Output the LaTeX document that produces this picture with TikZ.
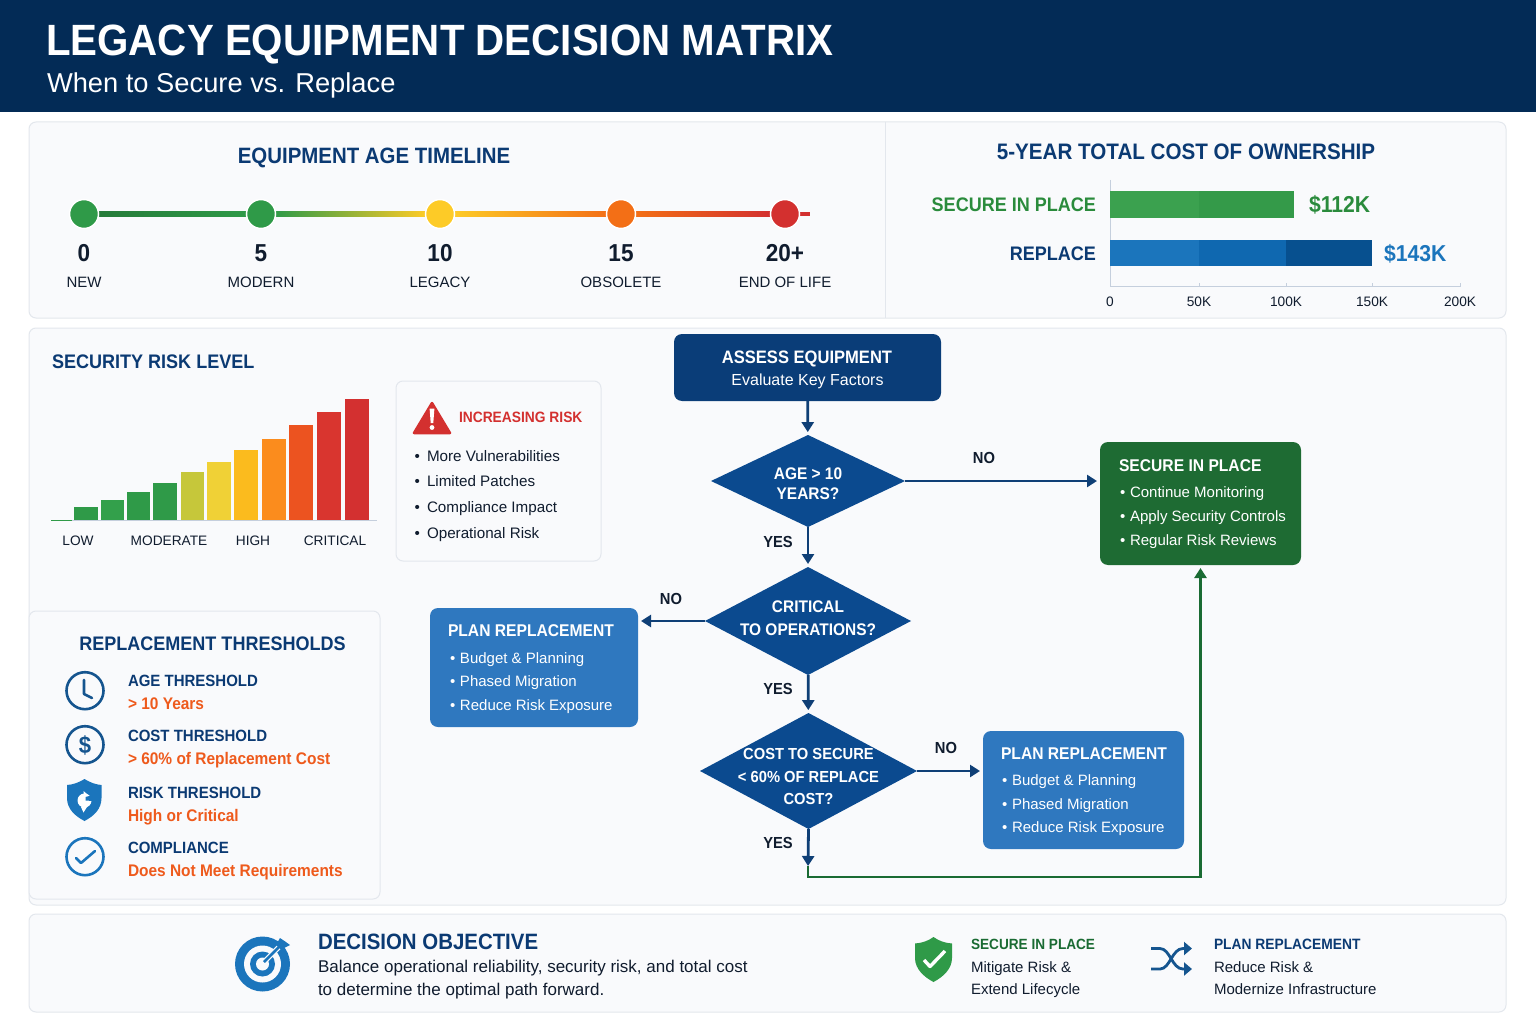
\documentclass[tikz,border=0pt]{standalone}
\usepackage{fontspec}
\setmainfont{Liberation Sans}[BoldFeatures={FakeStretch=0.92}]
\usetikzlibrary{shapes.geometric,arrows.meta,calc}
\definecolor{navy}{HTML}{0B3A73}
\definecolor{head}{HTML}{032B56}
\definecolor{ink}{HTML}{101C2E}
\definecolor{panelfill}{HTML}{F9FAFC}
\definecolor{panelline}{HTML}{E3E7ED}
\definecolor{flownavy}{HTML}{0A3D78}
\definecolor{dianavy}{HTML}{0B4A8F}
\definecolor{flowgreen}{HTML}{1E6B33}
\definecolor{flowblue}{HTML}{2F78BF}
\definecolor{linenavy}{HTML}{0F3F76}
\definecolor{linegreen}{HTML}{1A6B33}
\definecolor{cgreen}{HTML}{2F9A48}
\definecolor{textgreen}{HTML}{2A8B3C}
\definecolor{cyellow}{HTML}{FDCB27}
\definecolor{corange}{HTML}{F36F16}
\definecolor{cred}{HTML}{D3302F}
\definecolor{warnorange}{HTML}{EE5A1C}
\definecolor{ticon}{HTML}{15558F}
\definecolor{tblue}{HTML}{1B75BC}
\definecolor{axisline}{HTML}{C5CFDD}
\definecolor{gbarA}{HTML}{3BA14F}
\definecolor{gbarB}{HTML}{349A49}
\definecolor{bbarA}{HTML}{1B75BC}
\definecolor{bbarB}{HTML}{0F68B0}
\definecolor{bbarC}{HTML}{07508F}
\tikzset{
  sz/.style={font=\fontsize{#1}{#1}\selectfont,text height={0.72*#1 pt},text depth=0pt,inner sep=0pt,outer sep=0pt},
  b/.style={execute at begin node=\bfseries},
  panel/.style={draw=panelline,line width=1pt,fill=panelfill,rounded corners=7pt},
  flowbox/.style={rounded corners=8pt,inner sep=0pt,outer sep=0pt},
  dia/.style={diamond,fill=dianavy,inner sep=0pt,outer sep=0pt,shape aspect=1.8},
  flowarrow/.style={draw=linenavy,line width=2.8pt,shorten >=3pt,-{Triangle[length=10pt,width=12pt]}},
  dot/.style={circle,draw=white,line width=1.5pt,minimum size=29pt,inner sep=0pt,outer sep=0pt},
  icon/.style={line width=2.6pt,draw=ticon},
}
\newcommand{\bul}{\makebox[10pt][l]{\textbullet}}
\begin{document}
\begin{tikzpicture}[x=1pt,y=-1pt]
\useasboundingbox (0,0) rectangle (1536,1024);
\fill[white] (0,0) rectangle (1536,1024);
% header
\fill[head] (0,0) rectangle (1536,112);
\node[sz=43.8,b,anchor=west,text=white] (title) at (46,40) {LEGACY EQUIPMENT DECISION MATRIX};
\node[sz=27.3,anchor=west,text=white] (subtitle) at (47,83) {When to Secure vs. Replace};
% panels
\draw[panel] (29,122) rectangle (1506,318);
\draw[panelline,line width=1pt] (885,122) -- (885,318);
\draw[panel] (29,328) rectangle (1506,905);
\draw[panel] (29,611) rectangle (380,899);
\draw[panel] (396,381) rectangle (601,561);
\draw[panel] (29,914) rectangle (1506,1012);
% timeline
\node[sz=22.2,b,text=navy] (tltitle) at (374,156) {EQUIPMENT AGE TIMELINE};
\shade[left color=cgreen!80!black,right color=cgreen] (98,212) rectangle (247,216.5);
\shade[left color=cgreen,right color=cyellow] (275,212) rectangle (426,216.5);
\shade[left color=cyellow,right color=corange] (454,212) rectangle (607,216.5);
\shade[left color=corange,right color=cred] (635,212) rectangle (771,216.5);
\fill[cred] (799,212) rectangle (810,216.5);
\node[dot,fill=cgreen] (t0) at (84,214) {};
\node[dot,fill=cgreen] (t5) at (261,214) {};
\node[dot,fill=cyellow] (t10) at (440,214) {};
\node[dot,fill=corange] (t15) at (621,214) {};
\node[dot,fill=cred] (t20) at (785,214) {};
\foreach \nx/\ny/\nv/\nl in {84/a/0/NEW,261/b/5/MODERN,440/c/10/LEGACY,621/d/15/OBSOLETE,785/e/20+/END OF LIFE}{
  \node[sz=24.5,b,text=ink] (num\ny) at (\nx,252.5) {\nv};
  \node[sz=15,text=ink] (lab\ny) at (\nx,282) {\nl};
}
% cost
\node[sz=22.4,b,text=navy] (costtitle) at (1186,151) {5-YEAR TOTAL COST OF OWNERSHIP};
\node[sz=19.6,b,anchor=east,text=textgreen] (cl1) at (1096,204) {SECURE IN PLACE};
\node[sz=19.6,b,anchor=east,text=navy] (cl2) at (1096,253) {REPLACE};
\draw[axisline,line width=1pt] (1110,180) -- (1110,287) -- (1460,287);
\foreach \tx in {1199,1286,1372,1460}{\draw[axisline,line width=1pt] (\tx,287) -- (\tx,283);}
\fill[gbarA] (1110,191) rectangle (1199,218);
\fill[gbarB] (1199,191) rectangle (1294,218);
\fill[bbarA] (1110,240) rectangle (1199,266);
\fill[bbarB] (1199,240) rectangle (1286,266);
\fill[bbarC] (1286,240) rectangle (1372,266);
\node[sz=23,b,anchor=west,text=textgreen] (v1) at (1309,204.5) {\$112K};
\node[sz=23,b,anchor=west,text=tblue] (v2) at (1384,253.5) {\$143K};
\foreach \tx/\tl/\tn in {1110/0/a,1199/50K/b,1286/100K/c,1372/150K/d,1460/200K/e}{
  \node[sz=13.7,text=ink] (ax\tn) at (\tx,301.5) {\tl};
}
% risk chart
\node[sz=19.6,b,anchor=west,text=navy] (risktitle) at (52,361.5) {SECURITY RISK LEVEL};
\foreach \xa/\xb/\yt/\cc in {74.4/97.7/507.3/2F9A48,101/123.6/499.7/33A04B,127/150/491.7/2F9A48,153/176.5/483/2F9A48,180.6/203.5/472.3/C6C73A,206.8/231/462/F0D136,234/258/450/FBBB1E,261.6/285.6/438.7/FB8C1D,289/313/425/EC5320,317/341/412/D9352F,345/369/399.3/D33030}{
  \definecolor{barc}{HTML}{\cc}
  \fill[barc] (\xa,\yt) rectangle (\xb,520.5);
}
\draw[axisline,line width=1pt] (51,520.8) -- (377,520.8);
\draw[cgreen,line width=1pt] (51,520.8) -- (72,520.8);
\foreach \lx/\ll/\ln in {78/LOW/a,169/MODERATE/b,253/HIGH/c,335/CRITICAL/d}{
  \node[sz=13.7,text=ink] (rl\ln) at (\lx,541) {\ll};
}
% increasing risk
\fill[cred,draw=cred,line width=2.5pt,line join=round] (432,403) -- (450,433) -- (414,433) -- cycle;
\fill[white] (429.6,408.5) -- (434.4,408.5) -- (433.3,423) -- (430.7,423) -- cycle;
\fill[white] (432,427.5) circle (2.4pt);
\node[sz=15,b,anchor=west,text=cred] (irt) at (459,417) {INCREASING RISK};
\foreach \ry/\rt/\rn in {456/More Vulnerabilities/a,481/Limited Patches/b,507/Compliance Impact/c,533/Operational Risk/d}{
  \node[sz=15.2,anchor=west,text=ink] (ir\rn) at (414.5,\ry) {\makebox[12.5pt][l]{\textbullet}\rt};
}
% thresholds
\node[sz=19.6,b,text=navy] (thtitle) at (212.5,643) {REPLACEMENT THRESHOLDS};
\foreach \hy/\ha/\hb/\hn in {681/AGE THRESHOLD/> 10 Years/a,736/COST THRESHOLD/> 60\% of Replacement Cost/b,793/RISK THRESHOLD/High or Critical/c,848/COMPLIANCE/Does Not Meet Requirements/d}{
  \node[sz=16.3,b,anchor=west,text=navy] (ha\hn) at (128,\hy) {\ha};
  \pgfmathsetmacro{\hyb}{\hy+22}
  \node[sz=16.8,b,anchor=west,text=warnorange] (hb\hn) at (128,\hyb) {\hb};
}
\draw[icon] (85,690.7) circle (18.5pt);
\draw[icon,line cap=round,line join=round] (84,680) -- (84,694) -- (92,698);
\draw[icon] (85,744.7) circle (18.5pt);
\node[sz=24,b,text=ticon] (dollar) at (85,745) {\$};
\fill[tblue] (84.5,779) .. controls (78,783) and (73,784.5) .. (67,785) -- (67,798) .. controls (67,809) and (75,816) .. (84.5,821) .. controls (94,816) and (101.5,809) .. (101.5,798) -- (101.5,785) .. controls (96,784.5) and (91,783) .. (84.5,779) -- cycle;
\fill[white] (84.5,800.5) circle (7pt);
\fill[tblue] (85.5,797) -- (93,795) -- (93,801) -- (85.5,800.5) -- cycle;
\fill[white] (83.5,791) -- (87,794) -- (83.5,794) -- cycle;
\fill[white] (83.5,812.5) -- (87,807) -- (81,807) -- cycle;
\draw[icon,draw=tblue] (85,856.7) circle (18.5pt);
\draw[icon,draw=tblue,line cap=round,line join=round] (76,858) -- (81,863) -- (95,851);
% flow
\node[flowbox,fill=flownavy,minimum width=267pt,minimum height=67pt] (assess) at (807.5,367.5) {};
\node[sz=18,b,text=white] (assess1) at (807,357) {ASSESS EQUIPMENT};
\node[sz=16,text=white] (assess2) at (807.5,380) {Evaluate Key Factors};
\node[dia,minimum width=194pt,minimum height=92pt] (d1) at (808,481) {};
\node[sz=16.8,b,text=white] (d1a) at (808,473) {AGE > 10};
\node[sz=16.8,b,text=white] (d1b) at (808,493) {YEARS?};
\node[dia,minimum width=206pt,minimum height=108pt] (d2) at (808,621) {};
\node[sz=16.8,b,text=white] (d2a) at (808,606) {CRITICAL};
\node[sz=16.8,b,text=white] (d2b) at (808,629) {TO OPERATIONS?};
\node[dia,minimum width=217pt,minimum height=116pt] (d3) at (808.5,771) {};
\node[sz=16,b,text=white] (d3a) at (808.5,754) {COST TO SECURE};
\node[sz=16,b,text=white] (d3b) at (808.5,777) {< 60\% OF REPLACE};
\node[sz=16,b,text=white] (d3c) at (808.5,799) {COST?};
% outcome boxes
\node[flowbox,fill=flowgreen,minimum width=201pt,minimum height=123pt] (secure) at (1200.5,503.5) {};
\node[sz=17,b,anchor=west,text=white] (sec0) at (1119,465) {SECURE IN PLACE};
\foreach \sy/\st/\sn in {492/Continue Monitoring/a,516/Apply Security Controls/b,540/Regular Risk Reviews/c}{
  \node[sz=15,anchor=west,text=white] (sec\sn) at (1120,\sy) {\bul\st};
}
\node[flowbox,fill=flowblue,minimum width=208pt,minimum height=119pt] (planA) at (534,667.5) {};
\node[sz=17,b,anchor=west,text=white] (pa0) at (448,630) {PLAN REPLACEMENT};
\foreach \sy/\st/\sn in {658/Budget \& Planning/a,681/Phased Migration/b,705/Reduce Risk Exposure/c}{
  \node[sz=15,anchor=west,text=white] (pa\sn) at (450,\sy) {\bul\st};
}
\node[flowbox,fill=flowblue,minimum width=201pt,minimum height=118pt] (planB) at (1083.5,790) {};
\node[sz=17,b,anchor=west,text=white] (pb0) at (1001,753) {PLAN REPLACEMENT};
\foreach \sy/\st/\sn in {780/Budget \& Planning/a,804/Phased Migration/b,827/Reduce Risk Exposure/c}{
  \node[sz=15,anchor=west,text=white] (pb\sn) at (1002,\sy) {\bul\st};
}
% connectors
\draw[flowarrow] (assess) -- (d1);
\draw[flowarrow] (d1) -- (secure.west |- d1);
\draw[flowarrow] (d1) -- (d2);
\draw[flowarrow] (d2) -- (planA.east |- d2);
\draw[flowarrow] (d2) -- (d3);
\draw[flowarrow] (d3) -- (planB.west |- d3);
\coordinate (joint) at (808,866);
\coordinate (bend) at (808,877);
\draw[draw=linegreen,line width=2.8pt,shorten >=3pt,-{Triangle[length=10pt,width=12pt]}] (joint) -- (bend) -| (secure.south);
\draw[flowarrow,shorten >=0pt] (d3.south) -- (joint);
\node[sz=16,b,text=ink] (ln1) at (984,457.5) {NO};
\node[sz=16,b,text=ink] (ly1) at (778,541.5) {YES};
\node[sz=16,b,text=ink] (ln2) at (671,598.5) {NO};
\node[sz=16,b,text=ink] (ly2) at (778,688.5) {YES};
\node[sz=16,b,text=ink] (ln3) at (946,748) {NO};
\node[sz=16,b,text=ink] (ly3) at (778,842.5) {YES};
% bottom
\fill[tblue] (262.5,964) circle (27.5pt);
\fill[panelfill] (262.5,964) circle (18.5pt);
\fill[tblue] (262.5,964) circle (12.5pt);
\fill[panelfill] (262.5,964) circle (6.5pt);
\draw[panelfill,line width=5pt] (264,962) -- (281,945);
\draw[tblue,line width=2.8pt] (264,962) -- (281,945);
\fill[tblue] (280,938) -- (284.5,941) -- (290,945) -- (281,949.5) -- (276,945) -- cycle;
\node[sz=22.2,b,anchor=west,text=navy] (objt) at (318,941.5) {DECISION OBJECTIVE};
\node[sz=17,anchor=west,text=ink] (obj1) at (318,966.5) {Balance operational reliability, security risk, and total cost};
\node[sz=17,anchor=west,text=ink] (obj2) at (318,989.5) {to determine the optimal path forward.};
\fill[cgreen] (933.5,937) .. controls (928,941) and (922,943) .. (915,943.5) -- (915,958) .. controls (915,969) and (924,977) .. (933.5,982) .. controls (943,977) and (952,969) .. (952,958) -- (952,943.5) .. controls (945,943) and (939,941) .. (933.5,937) -- cycle;
\draw[white,line width=3.4pt,line join=round] (924,960) -- (930,966.5) -- (945,951);
\node[sz=14.8,b,anchor=west,text=linegreen] (bs0) at (971,944) {SECURE IN PLACE};
\node[sz=15,anchor=west,text=ink] (bs1) at (971,967) {Mitigate Risk \&};
\node[sz=15,anchor=west,text=ink] (bs2) at (971,989.5) {Extend Lifecycle};
\draw[ticon,line width=2.8pt,-{Triangle[length=8pt,width=13pt]}] (1151,948.5) -- (1160,948.5) .. controls (1170,948.5) and (1172,969) .. (1183,969) -- (1192,969);
\draw[ticon,line width=2.8pt,-{Triangle[length=8pt,width=13pt]}] (1151,969) -- (1160,969) .. controls (1170,969) and (1172,948.5) .. (1183,948.5) -- (1192,948.5);
\node[sz=15,b,anchor=west,text=navy] (bp0) at (1214,944) {PLAN REPLACEMENT};
\node[sz=15,anchor=west,text=ink] (bp1) at (1214,967) {Reduce Risk \&};
\node[sz=15,anchor=west,text=ink] (bp2) at (1214,989.5) {Modernize Infrastructure};
\end{tikzpicture}
\end{document}
